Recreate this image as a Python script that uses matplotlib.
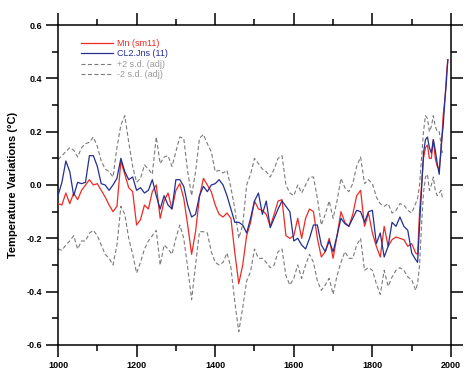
import matplotlib
matplotlib.use("Agg")
from matplotlib import pyplot as plt
from matplotlib.ticker import MultipleLocator, FormatStrFormatter

plt.rcParams['font.family'] = ['Liberation Sans', 'DejaVu Sans']
plt.rcParams['axes.unicode_minus'] = False

# decadal readings 1000-1910, then finer steps for the 20th century rise
years = list(range(1000, 1911, 10)) + [1915, 1920, 1925, 1930, 1935, 1940, 1945, 1950,
                                       1955, 1960, 1965, 1970, 1975, 1980, 1985, 1988, 1990, 1992]
sd_years = list(range(1000, 1911, 10)) + [1915, 1920, 1925, 1930, 1935, 1940, 1945, 1950,
                                          1955, 1960, 1965, 1970, 1975, 1978]

mn_sm11 = [
    -0.07, -0.075, -0.03, -0.07, -0.03, -0.055, -0.02, 0.0, 0.02, 0.0,
    0.005, -0.02, -0.045, -0.075, -0.1, -0.08, 0.09, 0.04, -0.01, -0.025,
    -0.15, -0.13, -0.075, -0.09, -0.025, 0.0, -0.125, -0.06, -0.03, -0.09,
    -0.02, 0.005, -0.05, -0.15, -0.26, -0.175, -0.045, 0.025, 0.0, -0.025,
    -0.075, -0.11, -0.12, -0.105, -0.125, -0.255, -0.37, -0.3, -0.19, -0.14,
    -0.06, -0.09, -0.095, -0.11, -0.155, -0.11, -0.06, -0.055, -0.19, -0.2,
    -0.19, -0.125, -0.2, -0.125, -0.09, -0.1, -0.2, -0.27, -0.25, -0.2,
    -0.275, -0.19, -0.1, -0.14, -0.155, -0.11, -0.04, -0.02, -0.155, -0.105,
    -0.18, -0.23, -0.27, -0.155, -0.23, -0.205, -0.195, -0.2, -0.205, -0.23,
    -0.22, -0.255,
    -0.26, -0.1, 0.0, 0.1, 0.14, 0.15, 0.1, 0.1, 0.17, 0.1, 0.07, 0.06, 0.13, 0.26,
    0.33, 0.4, 0.44, 0.47,
]

cl2_jns = [
    -0.04, 0.01, 0.09, 0.05, -0.04, 0.01, 0.005, 0.01, 0.11, 0.11,
    0.07, 0.005, 0.0, -0.02, 0.0, 0.025, 0.1, 0.05, 0.02, 0.03,
    -0.02, -0.01, -0.03, -0.02, 0.02, -0.04, -0.09, -0.04, -0.075, -0.09,
    0.02, 0.02, -0.005, -0.075, -0.12, -0.11, -0.04, -0.005, -0.025, 0.0,
    0.005, 0.02, 0.0, -0.04, -0.09, -0.14, -0.14, -0.15, -0.18, -0.125,
    -0.06, -0.03, -0.11, -0.06, -0.16, -0.125, -0.09, -0.06, -0.08, -0.1,
    -0.21, -0.2, -0.225, -0.24, -0.2, -0.15, -0.15, -0.225, -0.25, -0.21,
    -0.25, -0.19, -0.125, -0.145, -0.155, -0.125, -0.095, -0.1, -0.14, -0.1,
    -0.095, -0.22, -0.18, -0.27, -0.23, -0.14, -0.155, -0.12, -0.155, -0.17,
    -0.255, -0.28,
    -0.29, -0.15, -0.02, 0.12, 0.17, 0.18, 0.14, 0.12, 0.17, 0.13, 0.08, 0.04, 0.15, 0.22,
    0.33, 0.38, 0.43, 0.47,
]

plus_2sd = [
    0.095, 0.11, 0.125, 0.14, 0.13, 0.105, 0.14, 0.155, 0.16, 0.18,
    0.145, 0.09, 0.06, 0.05, 0.03, 0.14, 0.225, 0.26, 0.16, 0.07,
    0.01, 0.025, 0.075, 0.06, 0.04, 0.18, 0.08, 0.105, 0.11, 0.07,
    0.125, 0.18, 0.175, 0.05, -0.04, 0.05, 0.175, 0.19, 0.155, 0.125,
    0.05, 0.055, 0.045, 0.055, -0.01, -0.09, -0.2, -0.15, 0.0, 0.04,
    0.1, 0.08, 0.06, 0.05, 0.03, 0.06, 0.1, 0.11, 0.0, -0.03,
    -0.04, 0.0, -0.03, 0.0, 0.03, 0.03, -0.05, -0.15, -0.11, -0.06,
    -0.125, -0.06, 0.025, -0.01, -0.025, 0.005, 0.07, 0.105, 0.005, 0.02,
    0.005, -0.045, -0.07, -0.08, -0.07, -0.105, -0.095, -0.07, -0.075, -0.095,
    -0.105, -0.07,
    -0.05, 0.0, 0.1, 0.2, 0.26, 0.25, 0.2, 0.22, 0.26, 0.22, 0.2, 0.2, 0.15, 0.12,
]

minus_2sd = [
    -0.24, -0.245, -0.225, -0.21, -0.19, -0.24, -0.21, -0.21, -0.18, -0.17,
    -0.19, -0.225, -0.26, -0.275, -0.3, -0.225, -0.08, -0.11, -0.2, -0.26,
    -0.33, -0.29, -0.24, -0.21, -0.19, -0.17, -0.3, -0.225, -0.24, -0.26,
    -0.2, -0.15, -0.2, -0.31, -0.43, -0.3, -0.175, -0.175, -0.18, -0.25,
    -0.29, -0.3, -0.29, -0.255, -0.31, -0.44, -0.55, -0.46, -0.36, -0.325,
    -0.24, -0.275, -0.275, -0.29, -0.31, -0.3, -0.25, -0.24, -0.34, -0.375,
    -0.35, -0.3, -0.35, -0.3, -0.26, -0.29, -0.36, -0.395, -0.375, -0.35,
    -0.41, -0.34, -0.29, -0.25, -0.275, -0.275, -0.225, -0.2, -0.32, -0.31,
    -0.32, -0.37, -0.41, -0.32, -0.38, -0.345, -0.32, -0.31, -0.32, -0.345,
    -0.355, -0.395,
    -0.37, -0.3, -0.15, -0.03, 0.03, 0.04, -0.02, 0.0, 0.03, -0.02, -0.04, -0.03, -0.02, -0.05,
]

fig = plt.figure(figsize=(4.73, 3.71), dpi=100)
ax = fig.add_axes([0.1226, 0.0701, 0.8309, 0.8625])

gray = '#7a7a7a'
ax.plot(sd_years, plus_2sd, color=gray, lw=0.8, dashes=(3.6, 2.2), label='+2 s.d. (adj)', zorder=2)
ax.plot(sd_years, minus_2sd, color=gray, lw=0.8, dashes=(3.6, 2.2), label='-2 s.d. (adj)', zorder=2)
ax.plot(years, mn_sm11, color='#ee2a24', lw=0.9, label='Mn (sm11)', zorder=3)
ax.plot(years, cl2_jns, color='#23308f', lw=0.9, label='CL2.Jns (11)', zorder=4)

ax.set_xlim(1000, 2000)
ax.set_ylim(-0.6, 0.6)
ax.xaxis.set_major_locator(MultipleLocator(200))
ax.xaxis.set_minor_locator(MultipleLocator(100))
ax.yaxis.set_major_locator(MultipleLocator(0.2))
ax.yaxis.set_minor_locator(MultipleLocator(0.1))
ax.yaxis.set_major_formatter(FormatStrFormatter('%.1f'))

for side in ax.spines.values():
    side.set_linewidth(1.1)
ax.tick_params(which='both', direction='out', top=True, right=True, width=1.1,
               labelsize=6.5, pad=3)
ax.tick_params(which='major', length=8.5)
ax.tick_params(which='minor', length=4.5)
for lbl in ax.get_xticklabels() + ax.get_yticklabels():
    lbl.set_fontweight('bold')

ax.set_ylabel('Temperature Variations (°C)', fontsize=8, fontweight='bold', labelpad=6)

handles, labels = ax.get_legend_handles_labels()
order = [2, 3, 0, 1]
leg = ax.legend([handles[i] for i in order], [labels[i] for i in order],
                loc='upper left', bbox_to_anchor=(0.0585, 0.956), frameon=False,
                fontsize=6.5, handlelength=3.6, handletextpad=0.4, labelspacing=0.15,
                borderpad=0, borderaxespad=0,
                labelcolor=['#ee2a24', '#23308f', '#9a9a9a', '#9a9a9a'])

fig.savefig('out.png', dpi=100)
